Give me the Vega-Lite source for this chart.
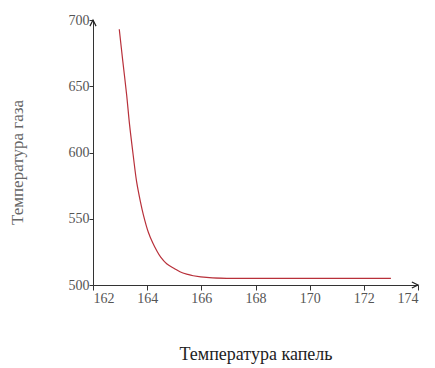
{
  "$schema": "https://vega.github.io/schema/vega-lite/v6.json",
  "width": 325,
  "height": 265,
  "autosize": "none",
  "padding": {"left": 93, "top": 20, "right": 17, "bottom": 83},
  "background": "white",
  "config": {
    "view": {"stroke": null},
    "axis": {
      "grid": false,
      "domainColor": "#333",
      "tickColor": "#333",
      "labelFont": "Liberation Serif",
      "labelFontSize": 14,
      "labelColor": "#555",
      "titleFont": "Liberation Serif",
      "titleFontWeight": "normal"
    }
  },
  "layer": [
    {
      "data": {"values": [
        {"drop": 162.97, "gas": 693},
        {"drop": 163.1, "gas": 669},
        {"drop": 163.24, "gas": 644},
        {"drop": 163.35, "gas": 621},
        {"drop": 163.49, "gas": 597},
        {"drop": 163.61, "gas": 578},
        {"drop": 163.75, "gas": 563},
        {"drop": 163.86, "gas": 553},
        {"drop": 164.04, "gas": 540},
        {"drop": 164.2, "gas": 532},
        {"drop": 164.35, "gas": 526},
        {"drop": 164.5, "gas": 521},
        {"drop": 164.72, "gas": 516},
        {"drop": 165.0, "gas": 512.5},
        {"drop": 165.21, "gas": 510},
        {"drop": 165.5, "gas": 508},
        {"drop": 165.7, "gas": 507},
        {"drop": 166.3, "gas": 505.5},
        {"drop": 167.0, "gas": 505},
        {"drop": 168.0, "gas": 505},
        {"drop": 170.0, "gas": 505},
        {"drop": 172.0, "gas": 505},
        {"drop": 173.0, "gas": 505}
      ]},
      "mark": {"type": "line", "color": "#b8303a", "strokeWidth": 1.2, "interpolate": "catmull-rom", "clip": false},
      "encoding": {
        "x": {
          "field": "drop", "type": "quantitative",
          "scale": {"domain": [162, 174], "nice": false, "zero": false},
          "axis": {"values": [162, 164, 166, 168, 170, 172, 174], "title": "Температура капель", "titleFontSize": 18, "titleColor": "#222", "titlePadding": 40, "tickSize": 5, "labelPadding": 1}
        },
        "y": {
          "field": "gas", "type": "quantitative",
          "scale": {"domain": [500, 700], "nice": false, "zero": false},
          "axis": {"values": [500, 550, 600, 650, 700], "title": "Температура газа", "titleFontSize": 17, "titleColor": "#666", "titlePadding": 42, "titleY": 142, "tickSize": 4, "labelPadding": 0}
        }
      }
    },
    {
      "data": {"values": [
        {"drop": 174, "gas": 500, "dir": 0},
        {"drop": 162, "gas": 700, "dir": -90}
      ]},
      "mark": {"type": "point", "shape": "M -1 -0.5 L 0 0 L -1 0.5", "filled": false, "stroke": "#222", "strokeWidth": 1.2, "opacity": 1, "size": 150, "clip": false},
      "encoding": {
        "x": {"field": "drop", "type": "quantitative"},
        "y": {"field": "gas", "type": "quantitative"},
        "angle": {"field": "dir", "type": "quantitative", "scale": null}
      }
    }
  ]
}
